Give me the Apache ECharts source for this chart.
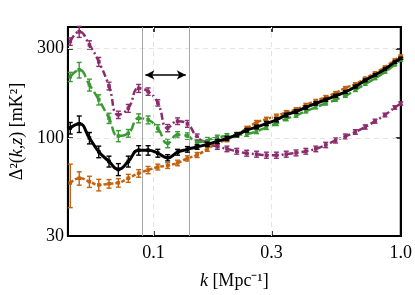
<!DOCTYPE html>
<html><head><meta charset="utf-8">
<script src="https://cdn.jsdelivr.net/npm/echarts@6/dist/echarts.min.js"></script>
<style>html,body{margin:0;padding:0;background:#fff}#c{width:415px;height:295px}</style>
</head><body><div id="c"></div>
<script>
const kValues = [0.046,0.050,0.055,0.060,0.066,0.072,0.079,0.087,0.095,0.104,0.114,0.125,0.137,0.150,0.165,0.181,0.198,0.217,0.238,0.261,0.286,0.314,0.344,0.377,0.413,0.453,0.497,0.545,0.597,0.655,0.718,0.787,0.863,0.946,1.0];
const blackVals = [113,119,100,84.5,75,68,75,86,86,83,78.5,84,87,89.5,92.5,96,99.5,104,110,114.5,119.5,125,132.7,138.5,145.5,153,160,168,176,188,203,217,233,254,266];
const blackErr = [8,12,7,6,5,5,5,5,5,4,3,3,3,2.5,2.5,2.5,2.5,2.5,2.5,2.5,3,3,3,3,3,3,3,3,3,3,3,3,3,3,3];
const greenVals = [212,231,192,160,127.5,102.5,106,127.5,125,112.7,93.7,104,102.5,94.8,97.6,100.5,102.5,104,105,108.5,114,119.5,126.5,132,139,146,153,160,168,180,194,208,225,246,260];
const greenErr = [12,22,14,10,8,7,5,7,6,5,5,4,4,4,3,3,3,3,3,3,3,3,3,3,3,3,3,3,3,3,3,3,3,3,3];
const purpleVals = [327,369,314,255,189.5,133,144,184,177,154,113,123,119,101,94,90,87.5,85,83,82,81,81,82,83.3,85,87.5,91.8,97,102,107.7,114.5,123,132.7,145.5,152.8];
const purpleErr = [15,25,16,14,9,6,7,9,8,6,5,5,5,4,3,3,3,3,3,3,3,3,3,3,3,3,3,3,3,3,3,3,3,3,3];
const orangeVals = [57.5,61,58.5,56.2,57,57.7,61,64.8,67.5,70,71.3,73.6,77.8,81.2,87.4,94,98,104.4,112.4,121,126,131,137,142,150,157.6,165.5,174,185,194,208,222,239,261,274];
const orangeErr = [15,5,4,4,3,3,3,3,3,2.5,2.5,2.5,2.5,2.5,2.5,2.5,2.5,2.5,3,3,3,3,3,3,3,3,3,3,3,3,3,3,3,3,3];
const xTicks = [0.1, 0.3, 1.0];
const xTickLabels = ['0.1', '0.3', '1.0'];
const yTicks = [30, 100, 300];
const yTickLabels = ['30', '100', '300'];
const bandK = [0.0926, 0.135];
const arrowLevel = 217;

const FONT = 'Liberation Serif';
const C = {black:'#000000', green:'#3b9a33', purple:'#8b2c6d', orange:'#c2620f'};

function nearestLabel(v, ticks, labels){
  let best = 0, bd = Infinity;
  ticks.forEach((t,i)=>{const d = Math.abs(Math.log(v/t)); if(d<bd){bd=d;best=i;}});
  return labels[best];
}

function lineSeries(vals, color, type, width, z){
  return {type:'line', data:kValues.map((k,i)=>[k, vals[i]]), smooth:0.5, showSymbol:false,
    lineStyle:{color, width, type}, z, silent:true, animation:false};
}
function errSeries(vals, errs, color, z){
  return {type:'custom', z, silent:true, animation:false,
    data:kValues.map((k,i)=>[k, vals[i], errs[i]]),
    encode:{x:0, y:1},
    renderItem(params, api){
      const k = api.value(0), v = api.value(1), e = api.value(2);
      const p = api.coord([k, v]);
      const lo = api.coord([k, Math.max(v - e, 1)]);
      const hi = api.coord([k, v + e]);
      const cw = 2.5, lw = 1.4;
      return {type:'group', children:[
        {type:'line', shape:{x1:p[0], y1:lo[1], x2:p[0], y2:hi[1]}, style:{stroke:color, lineWidth:lw}},
        {type:'line', shape:{x1:p[0]-cw, y1:lo[1], x2:p[0]+cw, y2:lo[1]}, style:{stroke:color, lineWidth:lw}},
        {type:'line', shape:{x1:p[0]-cw, y1:hi[1], x2:p[0]+cw, y2:hi[1]}, style:{stroke:color, lineWidth:lw}},
        {type:'rect', shape:{x:p[0]-1.8, y:p[1]-1.8, width:3.6, height:3.6}, style:{fill:color}}
      ]};
    }};
}

const chart = echarts.init(document.getElementById('c'), null, {renderer:'canvas'});
const axisCommonX = {type:'log', min:0.045, max:1.0, splitLine:{show:false}, minorTick:{show:false}, minorSplitLine:{show:false},
  axisLine:{show:true, lineStyle:{color:'#000', width:2}},
  axisTick:{show:true, inside:true, length:5, customValues:xTicks, lineStyle:{color:'#000', width:1.5}}};
const axisCommonY = {type:'log', min:30, max:391, splitLine:{show:false}, minorTick:{show:false}, minorSplitLine:{show:false},
  axisLine:{show:true, lineStyle:{color:'#000', width:2}},
  axisTick:{show:true, inside:true, length:5, customValues:yTicks, lineStyle:{color:'#000', width:1.5}}};

chart.setOption({
  animation:false,
  backgroundColor:'#fff',
  grid:{left:65, right:13, top:27, bottom:59, show:true, borderColor:'#000', borderWidth:2},
  xAxis:[
    Object.assign({}, axisCommonX, {position:'bottom',
      axisLabel:{show:true, customValues:xTicks, formatter:v=>nearestLabel(v, xTicks, xTickLabels), fontFamily:FONT, fontSize:18, color:'#000', margin:8},
      name:'{i|k} [Mpc⁻¹]', nameLocation:'middle', nameGap:36,
      nameTextStyle:{fontFamily:FONT, fontSize:18, color:'#000', rich:{i:{fontStyle:'italic', fontFamily:FONT, fontSize:18}}}}),
    Object.assign({}, axisCommonX, {position:'top', axisLabel:{show:false}})
  ],
  yAxis:[
    Object.assign({}, axisCommonY, {position:'left',
      axisLabel:{show:true, customValues:yTicks, formatter:v=>nearestLabel(v, yTicks, yTickLabels), fontFamily:FONT, fontSize:18, color:'#000', margin:4},
      name:'Δ²({i|k,z}) [mK²]', nameLocation:'middle', nameGap:41, nameRotate:90,
      nameTextStyle:{fontFamily:FONT, fontSize:18, color:'#000', rich:{i:{fontStyle:'italic', fontFamily:FONT, fontSize:18}}}}),
    Object.assign({}, axisCommonY, {position:'right', axisLabel:{show:false}})
  ],
  series:[
    {type:'line', z:1, silent:true, data:[[0.5, 100]], showSymbol:false, lineStyle:{opacity:0},
      markLine:{silent:true, symbol:'none', label:{show:false}, animation:false,
        lineStyle:{color:'#e4e4e4', type:[5,4], width:1},
        data:[{xAxis:xTicks[0]},{xAxis:xTicks[1]},{yAxis:yTicks[1]},{yAxis:yTicks[2]}]}},
    {type:'line', z:2, silent:true, data:[[0.5, 100]], showSymbol:false, lineStyle:{opacity:0},
      markLine:{silent:true, symbol:'none', label:{show:false}, animation:false,
        lineStyle:{color:'#a8a8a8', type:'solid', width:1},
        data:[{xAxis:bandK[0]},{xAxis:bandK[1]}]}},
    lineSeries(orangeVals, C.orange, [4,2], 2.5, 3),
    lineSeries(purpleVals, C.purple, [7,3,2,3], 2.5, 3),
    lineSeries(greenVals, C.green, [9,4], 2.5, 3),
    errSeries(orangeVals, orangeErr, C.orange, 4),
    errSeries(purpleVals, purpleErr, C.purple, 4),
    errSeries(greenVals, greenErr, C.green, 4),
    lineSeries(blackVals, C.black, 'solid', 3, 5),
    errSeries(blackVals, blackErr, C.black, 6),
    {type:'line', z:7, silent:true, data:[[0.5, 100]], showSymbol:false, lineStyle:{opacity:0},
      markLine:{silent:true, symbol:['arrow','arrow'], symbolSize:[7,9], label:{show:false}, animation:false,
        lineStyle:{color:'#000', type:'solid', width:1.5},
        data:[[{coord:[bandK[0], arrowLevel]},{coord:[bandK[1], arrowLevel]}]]}}
  ]
});
</script></body></html>
